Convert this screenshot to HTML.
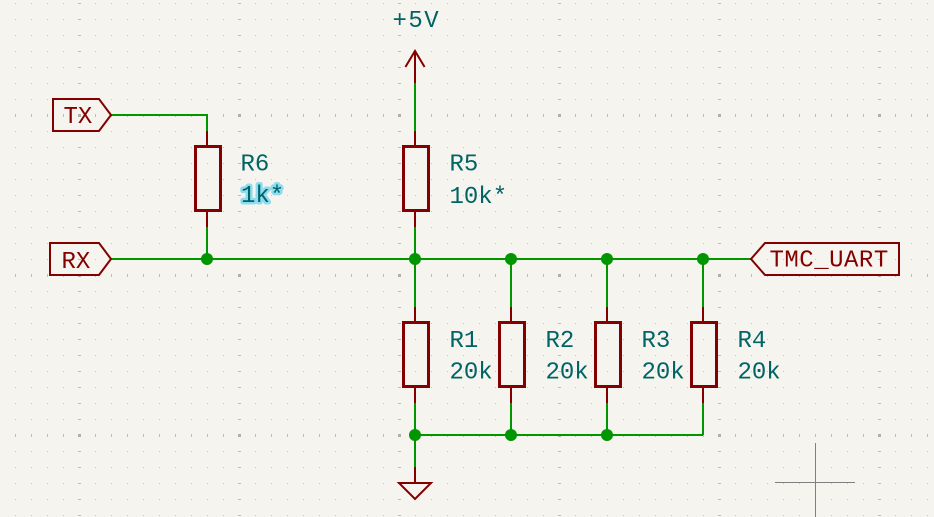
<!DOCTYPE html>
<html><head><meta charset="utf-8"><style>
html,body{margin:0;padding:0;background:#f5f4ef;}
svg{display:block;}
text{font-family:"Liberation Mono","DejaVu Sans Mono",monospace;font-size:24px;}
</style></head><body>
<svg width="934" height="517" viewBox="0 0 934 517" xmlns="http://www.w3.org/2000/svg">
<defs>
<pattern id="g" x="15" y="3" width="16" height="16" patternUnits="userSpaceOnUse"><rect width="1" height="1" fill="#c6c6c6"/></pattern>
<pattern id="vr" x="15" y="0" width="16" height="517" patternUnits="userSpaceOnUse"><rect x="0" y="0" width="1" height="517" fill="#bdbdbd"/></pattern>
<pattern id="hc" x="0" y="3" width="934" height="16" patternUnits="userSpaceOnUse"><rect x="0" y="0" width="934" height="1" fill="#bdbdbd"/></pattern>
</defs>
<rect width="934" height="517" fill="#f5f4ef"/>
<rect width="934" height="517" fill="url(#g)"/>
<!-- major rows: vertical dashes -->
<rect x="0" y="114" width="934" height="3" fill="url(#vr)"/>
<rect x="0" y="274" width="934" height="3" fill="url(#vr)"/>
<rect x="0" y="434" width="934" height="3" fill="url(#vr)"/>
<!-- major cols: horizontal dashes -->
<rect x="78" y="0" width="3" height="517" fill="url(#hc)"/>
<rect x="238" y="0" width="3" height="517" fill="url(#hc)"/>
<rect x="398" y="0" width="3" height="517" fill="url(#hc)"/>
<rect x="558" y="0" width="3" height="517" fill="url(#hc)"/>
<rect x="718" y="0" width="3" height="517" fill="url(#hc)"/>
<rect x="878" y="0" width="3" height="517" fill="url(#hc)"/>
<g fill="#b0b0b0">
<rect x="78" y="114" width="3" height="3"/><rect x="238" y="114" width="3" height="3"/><rect x="398" y="114" width="3" height="3"/><rect x="558" y="114" width="3" height="3"/><rect x="718" y="114" width="3" height="3"/><rect x="878" y="114" width="3" height="3"/>
<rect x="78" y="274" width="3" height="3"/><rect x="238" y="274" width="3" height="3"/><rect x="398" y="274" width="3" height="3"/><rect x="558" y="274" width="3" height="3"/><rect x="718" y="274" width="3" height="3"/><rect x="878" y="274" width="3" height="3"/>
<rect x="78" y="434" width="3" height="3"/><rect x="238" y="434" width="3" height="3"/><rect x="398" y="434" width="3" height="3"/><rect x="558" y="434" width="3" height="3"/><rect x="718" y="434" width="3" height="3"/><rect x="878" y="434" width="3" height="3"/>
</g>

<!-- wires -->
<g stroke="#009600" stroke-width="2" fill="none">
<path d="M111 115 H207 V131"/>
<path d="M207 227 V259"/>
<path d="M111 259 H751"/>
<path d="M415 83 V131"/>
<path d="M415 227 V259"/>
<path d="M415 259 V307 M511 259 V307 M607 259 V307 M703 259 V307"/>
<path d="M415 403 V467 M511 403 V435 M607 403 V435 M703 403 V435"/>
<path d="M415 435 H703 V435"/>
</g>
<g fill="#009600">
<circle cx="207" cy="259" r="6"/><circle cx="415" cy="259" r="6"/><circle cx="511" cy="259" r="6"/><circle cx="607" cy="259" r="6"/><circle cx="703" cy="259" r="6"/>
<circle cx="415" cy="435" r="6"/><circle cx="511" cy="435" r="6"/><circle cx="607" cy="435" r="6"/>
</g>

<!-- components -->
<g stroke="#840000" fill="none">
<!-- R6 -->
<path d="M207 131 V147 M207 211 V227" stroke-width="2"/>
<rect x="195.5" y="146.5" width="25" height="64" stroke-width="3"/>
<!-- R5 -->
<path d="M415 131 V147 M415 211 V227" stroke-width="2"/>
<rect x="403.5" y="146.5" width="25" height="64" stroke-width="3"/>
<!-- R1..R4 -->
<path d="M415 307 V323 M415 387 V403" stroke-width="2"/>
<rect x="403.5" y="322.5" width="25" height="64" stroke-width="3"/>
<path d="M511 307 V323 M511 387 V403" stroke-width="2"/>
<rect x="499.5" y="322.5" width="25" height="64" stroke-width="3"/>
<path d="M607 307 V323 M607 387 V403" stroke-width="2"/>
<rect x="595.5" y="322.5" width="25" height="64" stroke-width="3"/>
<path d="M703 307 V323 M703 387 V403" stroke-width="2"/>
<rect x="691.5" y="322.5" width="25" height="64" stroke-width="3"/>
<!-- +5V -->
<path d="M415 83 V51 M405.4 67 L415 51 L424.6 67" stroke-width="2"/>
<!-- GND -->
<path d="M415 467 V483 M415 483 H431 L415 499 L399 483 Z" stroke-width="2" stroke-linejoin="miter"/>
<!-- labels -->
<path d="M53 99 H99 L111 115 L99 131 H53 Z" stroke-width="2"/>
<path d="M50 243 H99 L111 259 L99 275 H50 Z" stroke-width="2"/>
<path d="M751 259 L765 243 H899 V275 H765 Z" stroke-width="2"/>
</g>

<!-- text -->
<g fill="#006464">
<text x="392.5" y="27" letter-spacing="1.5">+5V</text>
<text x="240.5" y="170.5">R6</text>
<text x="241" y="202" stroke="#8fdcf0" stroke-width="5" stroke-linejoin="round" paint-order="stroke">1k*</text>
<text x="449.5" y="170.5">R5</text>
<text x="449.5" y="203">10k*</text>
<text x="449.5" y="347">R1</text>
<text x="449.5" y="378.5">20k</text>
<text x="545.5" y="347">R2</text>
<text x="545.5" y="378.5">20k</text>
<text x="641.5" y="347">R3</text>
<text x="641.5" y="378.5">20k</text>
<text x="737.5" y="347">R4</text>
<text x="737.5" y="378.5">20k</text>
</g>
<g fill="#840000">
<text x="63.5" y="123">TX</text>
<text x="61.5" y="268">RX</text>
<text x="769.5" y="266.5" letter-spacing="0.5">TMC_UART</text>
</g>

<!-- cursor -->
<g stroke="#808080" stroke-width="1">
<path d="M815.5 443 V517"/>
<path d="M775 482.5 H855"/>
</g>
</svg>
</body></html>
